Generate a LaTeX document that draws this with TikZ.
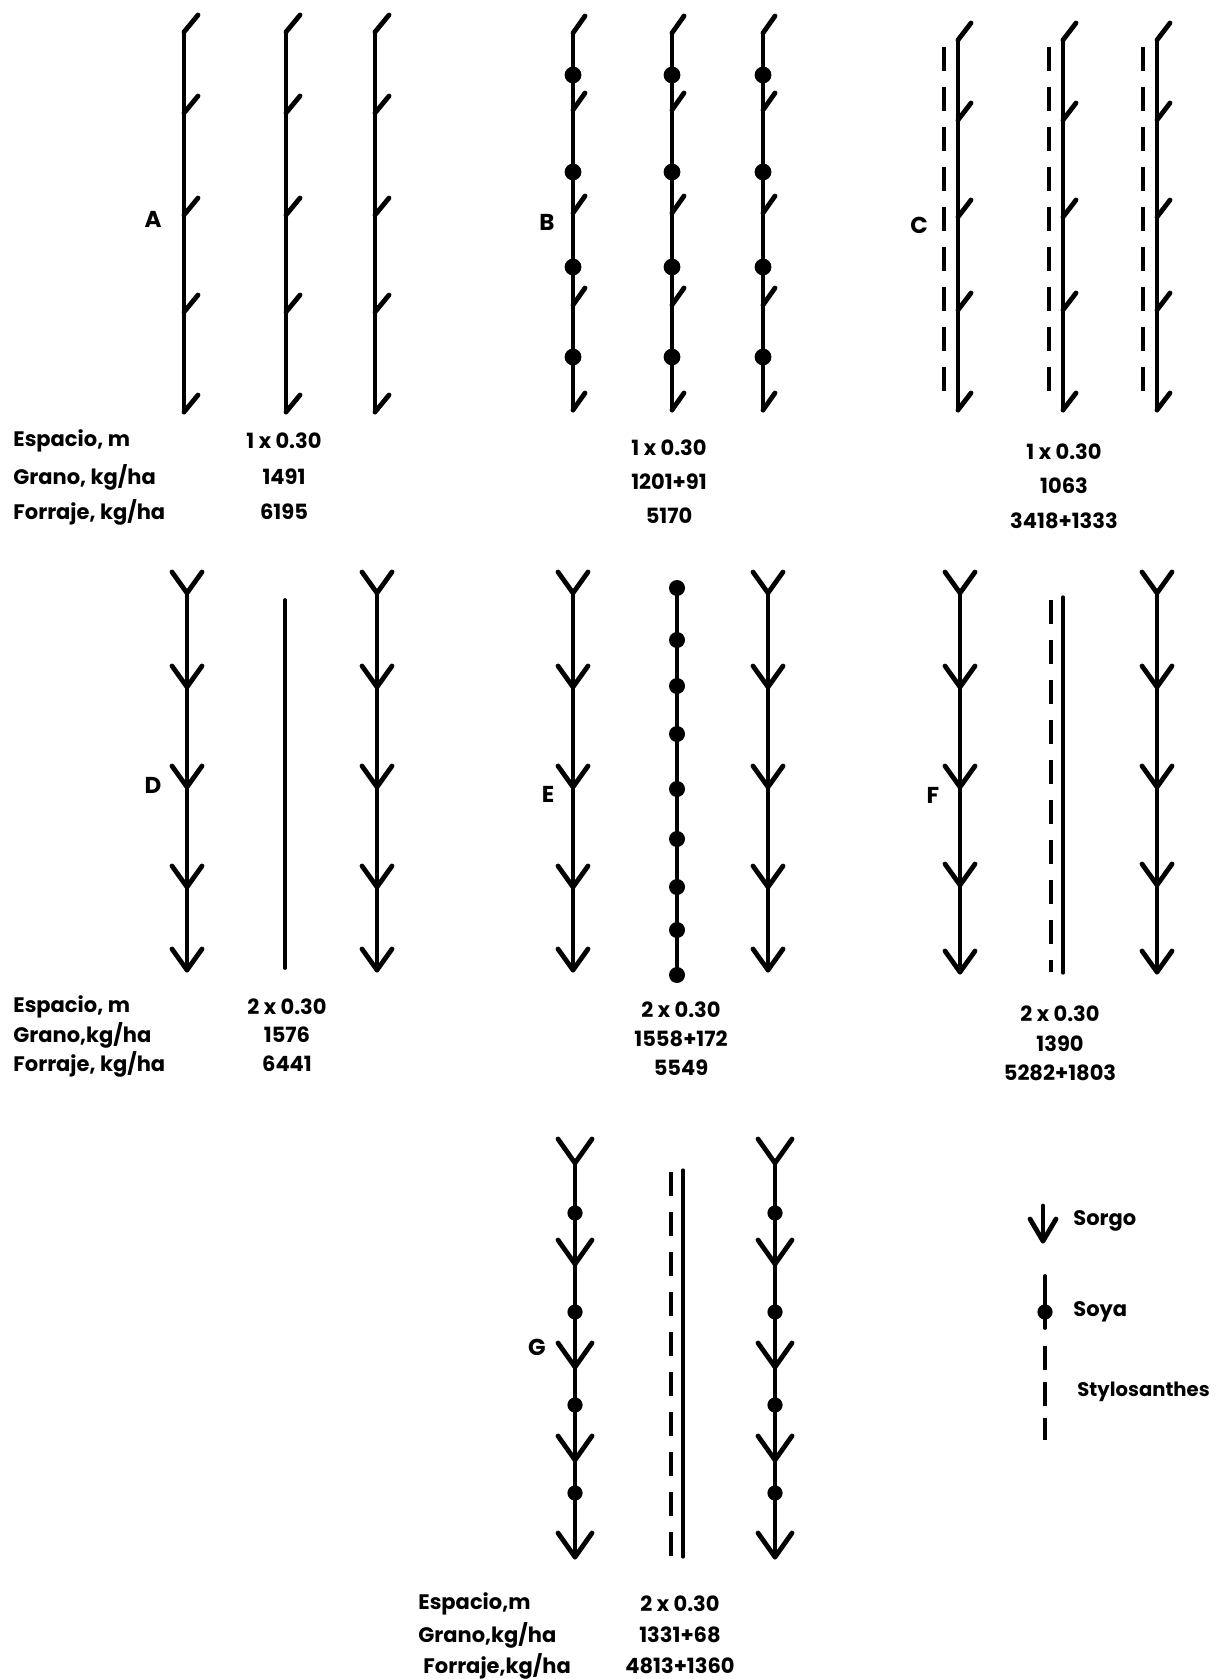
\documentclass[tikz,border=0pt]{standalone}
\usepackage{fontspec}
\setmainfont{Poppins}
\usetikzlibrary{positioning}

\begin{document}
\begin{tikzpicture}[
    x=0.5pt, y=-0.5pt,
    stem/.style={
      line width=2.4pt,
      line cap=round,
      line join=round
    },
    plainrow/.style={
      line width=1.9pt,
      line cap=round
    },
    stylo/.style={
      line width=2.3pt,
      dash pattern=on 12pt off 8pt
    },
    rowlab/.style={
      font=\bfseries\fontsize{11.5}{13}\selectfont
    },
    datalab/.style={
      font=\bfseries\fontsize{10.5}{12}\selectfont,
      anchor=west,
      inner sep=0pt
    },
    value/.style={
      font=\bfseries\fontsize{10.5}{12}\selectfont
    }
  ]
  \useasboundingbox (0,0) rectangle (1218,1679);

  % A: sorgo, 1 x 0.30
  \foreach \x in {184,286,375} {
    \draw[stem] (\x,32) -- (\x,412);
    \foreach \y in {32,113,215,312,412}
      \draw[stem] (\x,\y) -- ++(14,-17);
  }
  \node[rowlab] (labA) at (153,219) {A};

  % B: sorgo + soya in the row
  \foreach \x in {573,672,763} {
    \draw[stem] (\x,33) -- (\x,410);
    \foreach \y in {33,110,213,305,410}
      \draw[stem] (\x,\y) -- ++(12,-17);
    \foreach \y in {75,172,267,357}
      \fill (\x,\y) circle[radius=4.2pt];
  }
  \node[rowlab] (labB) at (547,222) {B};

  % C: sorgo + stylosanthes beside each row
  \foreach \x in {958,1063,1157} {
    \draw[stem] (\x,40) -- (\x,410);
    \foreach \y in {40,120,217,310,410}
      \draw[stem] (\x,\y) -- ++(13,-17);
    \draw[stylo] (\x-14,47) -- (\x-14,400);
  }
  \node[rowlab] (labC) at (919,225) {C};

  % D: two sorgo rows, free row between
  \foreach \x in {187,377} {
    \draw[stem] (\x,593) -- (\x,970);
    \foreach \y in {593,687,787,887,970}
      \draw[stem] (\x,\y) ++(-15,-21) -- (\x,\y) -- ++(15,-21);
  }
  \draw[plainrow] (285,600) -- (285,968);
  \node[rowlab] (labD) at (153,785) {D};

  % E: two sorgo rows, soya between
  \foreach \x in {573,768} {
    \draw[stem] (\x,593) -- (\x,970);
    \foreach \y in {593,687,787,887,970}
      \draw[stem] (\x,\y) ++(-15,-21) -- (\x,\y) -- ++(15,-21);
  }
  \draw[plainrow] (677,588) -- (677,975);
  \foreach \y in {588,640,686,734,789,839,887,930,975}
    \fill (677,\y) circle[radius=4pt];
  \node[rowlab] (labE) at (548,794) {E};

  % F: two sorgo rows, stylosanthes between
  \foreach \x in {960,1157} {
    \draw[stem] (\x,593) -- (\x,972);
    \foreach \y in {593,687,787,885,972}
      \draw[stem] (\x,\y) ++(-15,-21) -- (\x,\y) -- ++(15,-21);
  }
  \draw[stylo] (1051,600) -- (1051,972);
  \draw[plainrow,line width=1.6pt] (1063,597) -- (1063,973);
  \node[rowlab] (labF) at (933,795) {F};

  % G: sorgo + soya rows, stylosanthes between
  \foreach \x in {575,775} {
    \draw[stem] (\x,1163) -- (\x,1557);
    \foreach \y in {1163,1264,1367,1460,1557}
      \draw[stem] (\x,\y) ++(-17,-24) -- (\x,\y) -- ++(17,-24);
    \foreach \y in {1213,1312,1405,1493}
      \fill (\x,\y) circle[radius=3.8pt];
  }
  \draw[stylo] (671,1172) -- (671,1557);
  \draw[plainrow,line width=1.6pt] (683,1170) -- (683,1557);
  \node[rowlab] (labG) at (537,1347) {G};

  % Data, first row
  \node[datalab] (espA) at (13,441) {Espacio, m};
  \node[datalab] (graA) at (13,477) {Grano, kg/ha};
  \node[datalab] (forA) at (13,512) {Forraje, kg/ha};
  \node[value] (espAv) at (284,441) {1 x 0.30};
  \node[value] (graAv) at (284,477) {1491};
  \node[value] (forAv) at (284,512) {6195};
  \node[value] (espBv) at (669,448) {1 x 0.30};
  \node[value] (graBv) at (669,482) {1201+91};
  \node[value] (forBv) at (669,516) {5170};
  \node[value] (espCv) at (1064,452) {1 x 0.30};
  \node[value] (graCv) at (1064,486) {1063};
  \node[value] (forCv) at (1064,521) {3418+1333};

  % Data, second row
  \node[datalab] (espD) at (13,1007) {Espacio, m};
  \node[datalab] (graD) at (13,1035) {Grano,kg/ha};
  \node[datalab] (forD) at (13,1064) {Forraje, kg/ha};
  \node[value] (espDv) at (287,1007) {2 x 0.30};
  \node[value] (graDv) at (287,1035) {1576};
  \node[value] (forDv) at (287,1064) {6441};
  \node[value] (espEv) at (681,1010) {2 x 0.30};
  \node[value] (graEv) at (681,1039) {1558+172};
  \node[value] (forEv) at (681,1068) {5549};
  \node[value] (espFv) at (1060,1014) {2 x 0.30};
  \node[value] (graFv) at (1060,1044) {1390};
  \node[value] (forFv) at (1060,1073) {5282+1803};

  % Data, G
  \node[datalab] (espG) at (418,1604) {Espacio,m};
  \node[datalab] (graG) at (418,1635) {Grano,kg/ha};
  \node[datalab] (forG) at (423,1666) {Forraje,kg/ha};
  \node[value] (espGv) at (680,1604) {2 x 0.30};
  \node[value] (graGv) at (680,1635) {1331+68};
  \node[value] (forGv) at (680,1666) {4813+1360};

  % Legend
  \coordinate (sorgoTop) at (1043,1206);
  \coordinate (sorgoTip) at (1043,1241);
  \draw[stem] (sorgoTop) -- (sorgoTip);
  \draw[stem] (sorgoTip) ++(-13,-22) -- (sorgoTip) -- ++(13,-22);
  \node[datalab] (sorgo) at (1073,1221) {Sorgo};

  \coordinate (soyaTop) at (1045,1276);
  \coordinate (soyaBot) at (1045,1328);
  \draw[plainrow] (soyaTop) -- (soyaBot);
  \fill (1045,1312) circle[radius=3.8pt];
  \node[datalab] (soya) at (1073,1312) {Soya};

  \coordinate (styloTop) at (1045,1346);
  \coordinate (styloBot) at (1045,1440);
  \draw[stylo,dash pattern=on 12pt off 6pt] (styloTop) -- (styloBot);
  \node[datalab,font=\bfseries\fontsize{9.8}{12}\selectfont] (stylosanthes) at (1077,1392) {Stylosanthes};
\end{tikzpicture}
\end{document}
